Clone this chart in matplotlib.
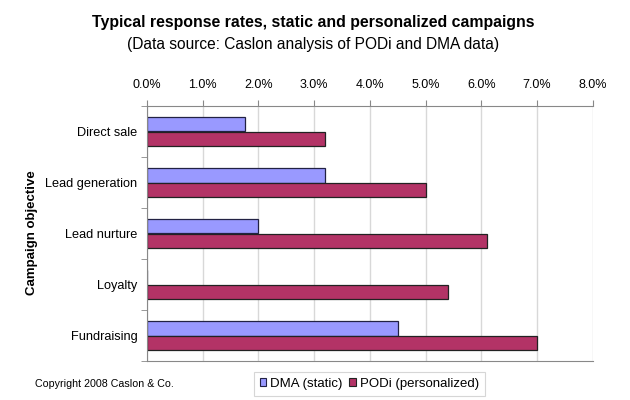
import matplotlib.pyplot as plt
from matplotlib.ticker import FuncFormatter, FixedLocator
from matplotlib.patches import Patch

plt.rcParams['font.family'] = ['Liberation Sans', 'DejaVu Sans']

# Data
objectives = ["Direct sale", "Lead generation", "Lead nurture", "Loyalty", "Fundraising"]
dma_static = [1.75, 3.2, 2.0, 0.0, 4.5]
podi_personalized = [3.2, 5.0, 6.1, 5.4, 7.0]

dma_color = "#9999FF"
podi_color = "#B33366"

fig = plt.figure(figsize=(6.3, 4.0), dpi=100)
ax = fig.add_axes([0.2333, 0.0975, 0.7078, 0.6375])

pos = list(range(len(objectives)))
h = 0.29
ax.barh([p - h / 2 for p in pos], dma_static, height=h, color=dma_color,
        edgecolor="#222244", linewidth=0.9)
ax.barh([p + h / 2 for p in pos], podi_personalized, height=h, color=podi_color,
        edgecolor="#222222", linewidth=0.9)

ax.set_xlim(0, 8)
ax.set_ylim(len(objectives) - 0.5, -0.5)
ax.xaxis.tick_top()
ax.set_xticks(range(0, 9))
ax.xaxis.set_major_formatter(FuncFormatter(lambda v, p: f"{v:.1f}%"))
ax.tick_params(axis="x", labelsize=9, length=4, color="#888888", pad=7)
ax.grid(axis="x", color="#d8d8d8", linewidth=1)
ax.set_axisbelow(True)

ax.set_yticks(pos)
ax.set_yticklabels(objectives, fontsize=9.2)
ax.tick_params(axis="y", length=0, pad=7)
ax.yaxis.set_minor_locator(FixedLocator([p + 0.5 for p in range(-1, len(objectives))]))
ax.tick_params(axis="y", which="minor", length=4, color="#888888")

for s in ax.spines.values():
    s.set_color("#888888")
ax.spines["right"].set_visible(False)

fig.text(0.051, 0.4175, "Campaign objective", rotation=90, ha="center", va="center",
         fontsize=9.5, fontweight="bold")

fig.text(0.497, 0.945, "Typical response rates, static and personalized campaigns",
         ha="center", va="center", fontsize=11.4, fontweight="bold")
fig.text(0.497, 0.8875, "(Data source: Caslon analysis of PODi and DMA data)",
         ha="center", va="center", fontsize=11.2)

fig.text(0.056, 0.04, "Copyright 2008 Caslon & Co.", ha="left", va="center", fontsize=7.7)

handles = [Patch(facecolor=dma_color, edgecolor="#222244", linewidth=0.8),
           Patch(facecolor=podi_color, edgecolor="#222222", linewidth=0.8)]
leg = fig.legend(handles, ["DMA (static)", "PODi (personalized)"], loc="upper center",
                 bbox_to_anchor=(0.5865, 0.07), ncol=2, fontsize=9.5, frameon=True,
                 fancybox=False, edgecolor="#cccccc", handlelength=0.5, handleheight=0.5,
                 handletextpad=0.3, columnspacing=0.5, borderpad=0.45, borderaxespad=0)
leg.get_frame().set_linewidth(0.8)

fig.savefig("out.png", dpi=100)
